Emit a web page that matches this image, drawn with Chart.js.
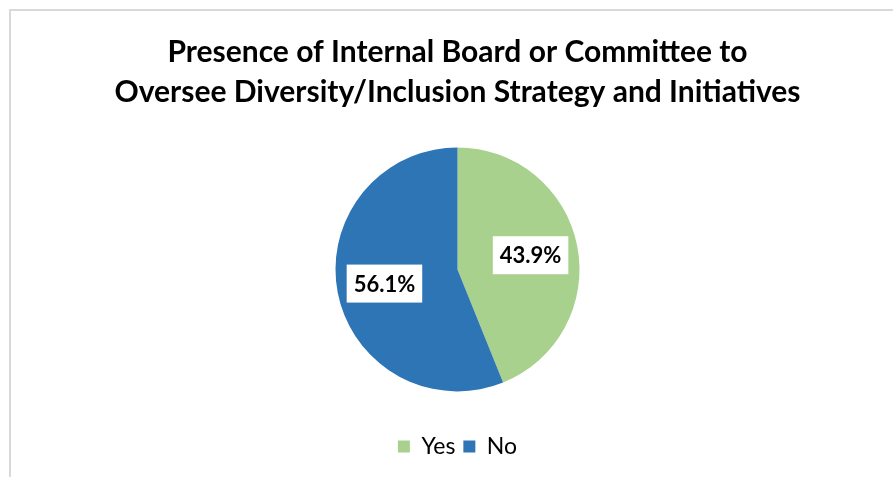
<!DOCTYPE html>
<html lang="en">
<head>
<meta charset="UTF-8">
<title>Internal Board or Committee</title>
<script src="https://cdn.jsdelivr.net/npm/chart.js@4.4.0/dist/chart.umd.min.js"></script>
<style>
  html, body { margin: 0; padding: 0; background: #fff; }
  .frame {
    position: absolute; left: 9px; top: 9px; width: 900px; height: 480px;
    border-left: 2px solid #d9d9d9; border-top: 2px solid #d9d9d9;
  }
  .chart-box { position: absolute; left: 0; top: 0; width: 893px; height: 477px; }
</style>
</head>
<body>
<div class="frame"></div>
<div class="chart-box"><canvas id="myChart"></canvas></div>
<script>
const labels = ['Yes', 'No'];
const shares = [43.9, 56.1];
const colors = ['#a9d18e', '#2e75b6'];
const titleLines = ['Presence of Internal Board or Committee to', 'Oversee Diversity/Inclusion Strategy and Initiatives'];

const font = "Lato, 'Open Sans', sans-serif";

// percentage labels in white boxes on each slice
const sliceLabels = {
  id: 'sliceLabels',
  afterDatasetsDraw(chart) {
    const ctx = chart.ctx;
    const meta = chart.getDatasetMeta(0);
    ctx.save();
    ctx.font = 'bold 22px ' + font;
    ctx.textAlign = 'center';
    ctx.textBaseline = 'middle';
    meta.data.forEach((arc, i) => {
      const mid = (arc.startAngle + arc.endAngle) / 2;
      const r = arc.outerRadius * 0.61;
      const x = arc.x + Math.cos(mid) * r;
      const y = arc.y + Math.sin(mid) * r;
      const txt = shares[i].toFixed(1) + '%';
      const w = ctx.measureText(txt).width + 14;
      const h = 38;
      ctx.fillStyle = '#fff';
      ctx.fillRect(x - w / 2, y - h / 2, w, h);
      ctx.fillStyle = '#000';
      ctx.fillText(txt, x, y + 1);
    });
    ctx.restore();
  }
};

const ctx = document.getElementById('myChart').getContext('2d');
new Chart(ctx, {
  type: 'pie',
  data: {
    labels: labels,
    datasets: [{
      data: shares,
      backgroundColor: colors,
      borderWidth: 0
    }]
  },
  options: {
    responsive: true,
    maintainAspectRatio: false,
    animation: false,
    radius: 122,
    layout: { padding: { top: 32, bottom: 9, left: 22, right: 0 } },
    plugins: {
      title: {
        display: true,
        text: titleLines,
        color: '#000',
        font: { family: font, size: 30, weight: 'bold', lineHeight: 1.33 },
        padding: { top: 0, bottom: 0 }
      },
      legend: {
        position: 'bottom',
        labels: {
          color: '#000',
          font: { family: font, size: 23 },
          boxWidth: 12,
          boxHeight: 12,
          padding: 8
        }
      },
      tooltip: { enabled: false }
    }
  },
  plugins: [sliceLabels]
});
</script>
</body>
</html>
